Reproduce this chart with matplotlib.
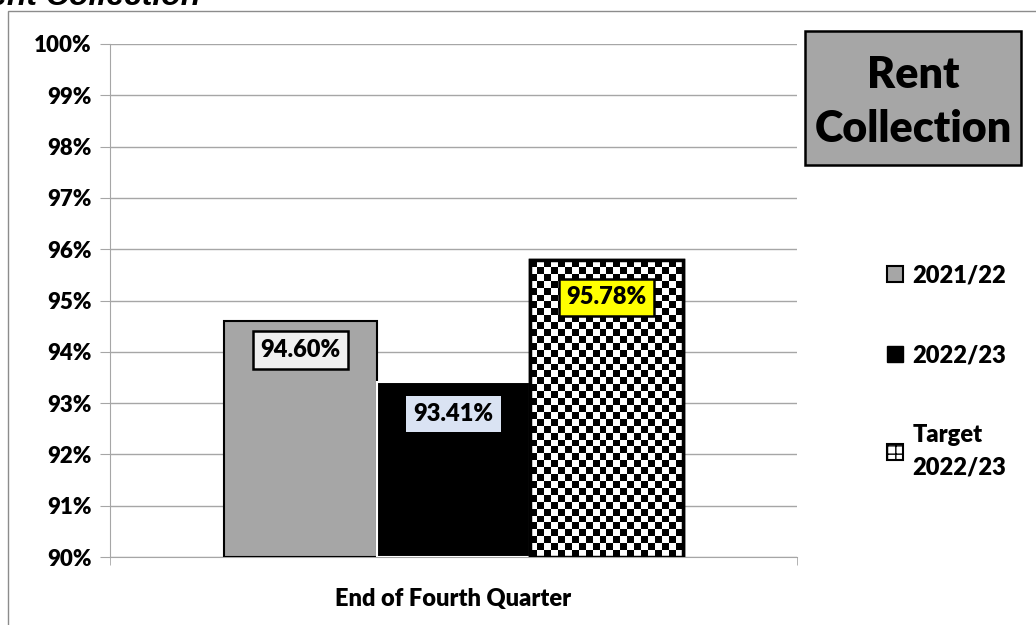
import numpy as np
import matplotlib.pyplot as plt
from matplotlib.patches import Rectangle, Patch

plt.rcParams['font.family'] = ['Lato', 'DejaVu Sans']
plt.rcParams['font.weight'] = 'heavy'

category = 'End of Fourth Quarter'
series = ['2021/22', '2022/23', 'Target\n2022/23']
values = [94.60, 93.41, 95.78]
labels = ['94.60%', '93.41%', '95.78%']
yticks = [90, 91, 92, 93, 94, 95, 96, 97, 98, 99, 100]

W, H = 1036, 625
fig = plt.figure(figsize=(W/100, H/100), dpi=100)
ax_l, ax_r, ax_t, ax_b = 110, 797, 44, 557
ax = fig.add_axes([ax_l/W, 1-ax_b/H, (ax_r-ax_l)/W, (ax_b-ax_t)/H])

# outer chart frame
fig.patches.append(Rectangle((8/W, -0.1), 1.2, 1-11/H+0.1, transform=fig.transFigure,
                             fill=False, edgecolor='#8c8c8c', lw=1))

w = 0.2227
xs = [-w, 0, w]
base = 90
b1 = ax.bar(xs[0], values[0]-base, w, bottom=base, color='#a6a6a6', edgecolor='black', lw=1.5, zorder=3)
b2 = ax.bar(xs[1], values[1]-base, w, bottom=base, color='black', edgecolor='white', lw=1.5, zorder=3)
b3 = ax.bar(xs[2], values[2]-base, w, bottom=base, color='white', edgecolor='black', lw=2.5, zorder=3)

# checker fill for target bar (square cells of ~7 px)
p = b3.patches[0]
n = 22
bar_w_px = w * (ax_r - ax_l)
bar_h_px = (values[2]-base) / 10 * (ax_b - ax_t)
rows = int(round(n * bar_h_px / bar_w_px))
board = (np.indices((rows, n)).sum(axis=0) % 2)
im = ax.imshow(board, cmap='gray', extent=(p.get_x(), p.get_x()+w, base, values[2]),
               aspect='auto', interpolation='nearest', zorder=3.5)
im.set_clip_path(p)
ax.bar(xs[2], values[2]-base, w, bottom=base, fill=False, edgecolor='black', lw=2.5, zorder=4)

boxes = [dict(boxstyle='square,pad=0.33', fc='#efefef', ec='black', lw=1.8),
         dict(boxstyle='square,pad=0.3', fc='#dae3f3', ec='none'),
         dict(boxstyle='square,pad=0.3', fc='#ffff00', ec='black', lw=1.8)]
offs = [0.57, 0.63, 0.72]
for x, v, t, bx, o in zip(xs, values, labels, boxes, offs):
    ax.text(x, v - o, t, ha='center', va='center', fontsize=17, fontweight='heavy', bbox=bx, zorder=6)

ax.set_xlim(-0.5, 0.5)
ax.set_ylim(90, 100)
ax.set_yticks(yticks)
ax.set_yticklabels([f'{t}%' for t in yticks], fontsize=16, fontweight='heavy')
ax.yaxis.grid(True, color='#a6a6a6', lw=1)
ax.set_axisbelow(True)
ax.set_xticks([0])
ax.set_xticklabels([category], fontsize=17, fontweight='heavy')
ax.set_xticks([-0.5, 0.5], minor=True)
ax.tick_params(axis='x', which='major', length=0, pad=22)
ax.tick_params(axis='x', which='minor', length=6, color='#a6a6a6')
ax.tick_params(axis='y', length=7, color='#a6a6a6', pad=6)
for s in ['top', 'right']:
    ax.spines[s].set_visible(False)
ax.spines['left'].set_color('#a6a6a6')
ax.spines['bottom'].set_color('#a6a6a6')

# legend
handles = [Patch(fc='#a6a6a6', ec='black', lw=1.5), Patch(fc='black', ec='black'),
           Patch(fc='white', ec='black', hatch='++', lw=1.5)]
leg = fig.legend(handles, series, loc='upper left', bbox_to_anchor=(878/W, 1-255/H),
                 frameon=False, prop={'weight': 'heavy', 'size': 17},
                 handlelength=0.65, handleheight=0.65, handletextpad=0.4, labelspacing=2.45,
                 borderaxespad=0)
for t in leg.get_texts():
    t.set_linespacing(1.55)

# title box
fig.patches.append(Rectangle((805/W, 1-165/H), 216/W, 134/H, transform=fig.transFigure,
                             fc='#a6a6a6', ec='black', lw=1.8))
fig.text(913/W, 1-102/H, 'Rent\nCollection', ha='center', va='center', fontsize=31,
         fontweight='heavy', linespacing=1.45)

fig.text(-34/W, 1-5/H, 'Rent Collection', ha='left', va='baseline', fontsize=23,
         fontweight='bold', style='italic', family=['Liberation Sans', 'DejaVu Sans'])

fig.savefig('out.png', dpi=100)
